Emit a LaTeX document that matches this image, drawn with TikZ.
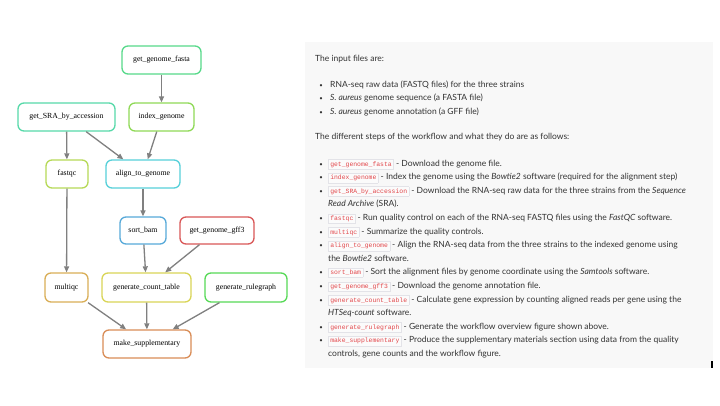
\documentclass[tikz,border=0pt]{standalone}
\usepackage{fontspec}
\setmainfont{Lato}
\setmonofont{Liberation Mono}
\newfontfamily\graphfont{Liberation Serif}
\usetikzlibrary{arrows.meta}
\definecolor{panelbg}{HTML}{F8F8F8}
\definecolor{txt}{HTML}{333333}
\definecolor{chipred}{HTML}{E2474B}
\definecolor{chipbg}{HTML}{FBFBFB}
\definecolor{chipbd}{HTML}{E3E3E8}
\definecolor{edgegray}{HTML}{808080}
\definecolor{cfasta}{HTML}{57D98A}
\definecolor{csra}{HTML}{57D9A9}
\definecolor{cindex}{HTML}{8FD957}
\definecolor{cfastqc}{HTML}{B6D957}
\definecolor{calign}{HTML}{57D0D9}
\definecolor{csort}{HTML}{57A9D9}
\definecolor{cgff}{HTML}{D95757}
\definecolor{cmultiqc}{HTML}{D9AE57}
\definecolor{ccount}{HTML}{D9D557}
\definecolor{crule}{HTML}{57D957}
\definecolor{csupp}{HTML}{D98D57}
\newcommand{\chip}[1]{{\setlength{\fboxsep}{1.7pt}\setlength{\fboxrule}{0.4pt}\fcolorbox{chipbd}{chipbg}{\textcolor{chipred}{\fontsize{6.4}{7}\ttfamily #1}}}}
\tikzset{
  rule/.style={draw=#1, line width=1.3pt, rounded corners=6pt, fill=white,
    minimum height=28pt, inner sep=0pt, font=\graphfont\fontsize{7.8}{9}\selectfont},
  edge/.style={draw=edgegray, line width=1.3pt, -{Triangle[length=6pt,width=5pt]}},
  line/.style={anchor=base west, inner sep=0pt, text=txt, font=\fontsize{8.5}{10}\selectfont},
  bul/.style={anchor=base, inner sep=0pt, text=txt, font=\fontsize{6}{7}\selectfont}
}
\begin{document}
\begin{tikzpicture}[x=1pt,y=-1pt]
\useasboundingbox (0,0) rectangle (720,405);
\fill[white] (0,0) rectangle (720,405);
\fill[panelbg] (305,42) rectangle (713,368);
\fill[black] (711,361) rectangle (713,368);

% rulegraph
\node[rule=cfasta, minimum width=79pt] (fasta) at (161.5,60) {get\_genome\_fasta};
\node[rule=csra, minimum width=97pt] (sra) at (66.5,117) {get\_SRA\_by\_accession};
\node[rule=cindex, minimum width=65pt] (index) at (161.5,117) {index\_genome};
\node[rule=cfastqc, minimum width=42pt] (fastqc) at (67,174) {fastqc};
\node[rule=calign, minimum width=74pt] (align) at (143,174) {align\_to\_genome};
\node[rule=csort, minimum width=46pt, minimum height=27pt] (sort) at (143,230.5) {sort\_bam};
\node[rule=cgff, minimum width=74pt, minimum height=27pt] (gff) at (217,230.5) {get\_genome\_gff3};
\node[rule=cmultiqc, minimum width=43pt, minimum height=29pt] (multiqc) at (66.5,287.5) {multiqc};
\node[rule=ccount, minimum width=89pt, minimum height=29pt] (count) at (146.5,287.5) {generate\_count\_table};
\node[rule=crule, minimum width=82pt, minimum height=29pt] (rulegraph) at (246,287.5) {generate\_rulegraph};
\node[rule=csupp, minimum width=88pt] (supp) at (147,344) {make\_supplementary};

\draw[edge] (fasta) -- (index);
\draw[edge] (sra) -- (fastqc);
\draw[edge] (sra) -- (align);
\draw[edge] (index) -- (align);
\draw[edge] (fastqc) -- (multiqc);
\draw[edge] (align) -- (sort);
\draw[edge] (sort) -- (count);
\draw[edge] (gff) -- (count);
\draw[edge] (multiqc) -- (supp);
\draw[edge] (count) -- (supp);
\draw[edge] (rulegraph) -- (supp);

% text panel
\node[line] (t1) at (315,61) {The input files are:};
\node[bul] (b1) at (321,87) {\textbullet};
\node[line] (l1) at (330,87) {RNA-seq raw data (FASTQ files) for the three strains};
\node[bul] (b2) at (321,100.5) {\textbullet};
\node[line] (l2) at (330,100.5) {\textit{S. aureus} genome sequence (a FASTA file)};
\node[bul] (b3) at (321,114) {\textbullet};
\node[line] (l3) at (330,114) {\textit{S. aureus} genome annotation (a GFF file)};
\node[line] (t2) at (315,139) {The different steps of the workflow and what they do are as follows:};

\foreach \k/\b in {0/1,1/1,2/1,3/0,4/1,5/1,6/1,7/0,8/1,9/1,10/1,11/0,12/1,13/1,14/0}{
  \ifnum\b=1 \node[bul] at (321,{166+13.6*\k}) {\textbullet}; \fi
}
\node[line] (s1) at (328,166) {\chip{get\_genome\_fasta} - Download the genome file.};
\node[line] (s2) at (328,179.6) {\chip{index\_genome} - Index the genome using the \textit{Bowtie2} software (required for the alignment step)};
\node[line] (s3) at (328,193.2) {\chip{get\_SRA\_by\_accession} - Download the RNA-seq raw data for the three strains from the \textit{Sequence}};
\node[line] (s3b) at (328,206.8) {\textit{Read Archive} (SRA).};
\node[line] (s4) at (328,220.4) {\chip{fastqc} - Run quality control on each of the RNA-seq FASTQ files using the \textit{FastQC} software.};
\node[line] (s5) at (328,234) {\chip{multiqc} - Summarize the quality controls.};
\node[line] (s6) at (328,247.6) {\chip{align\_to\_genome} - Align the RNA-seq data from the three strains to the indexed genome using};
\node[line] (s6b) at (328,261.2) {the \textit{Bowtie2} software.};
\node[line] (s7) at (328,274.8) {\chip{sort\_bam} - Sort the alignment files by genome coordinate using the \textit{Samtools} software.};
\node[line] (s8) at (328,288.4) {\chip{get\_genome\_gff3} - Download the genome annotation file.};
\node[line] (s9) at (328,302) {\chip{generate\_count\_table} - Calculate gene expression by counting aligned reads per gene using the};
\node[line] (s9b) at (328,315.6) {\textit{HTSeq-count} software.};
\node[line] (s10) at (328,329.2) {\chip{generate\_rulegraph} - Generate the workflow overview figure shown above.};
\node[line] (s11) at (328,342.8) {\chip{make\_supplementary} - Produce the supplementary materials section using data from the quality};
\node[line] (s11b) at (328,356.4) {controls, gene counts and the workflow figure.};
\end{tikzpicture}
\end{document}
